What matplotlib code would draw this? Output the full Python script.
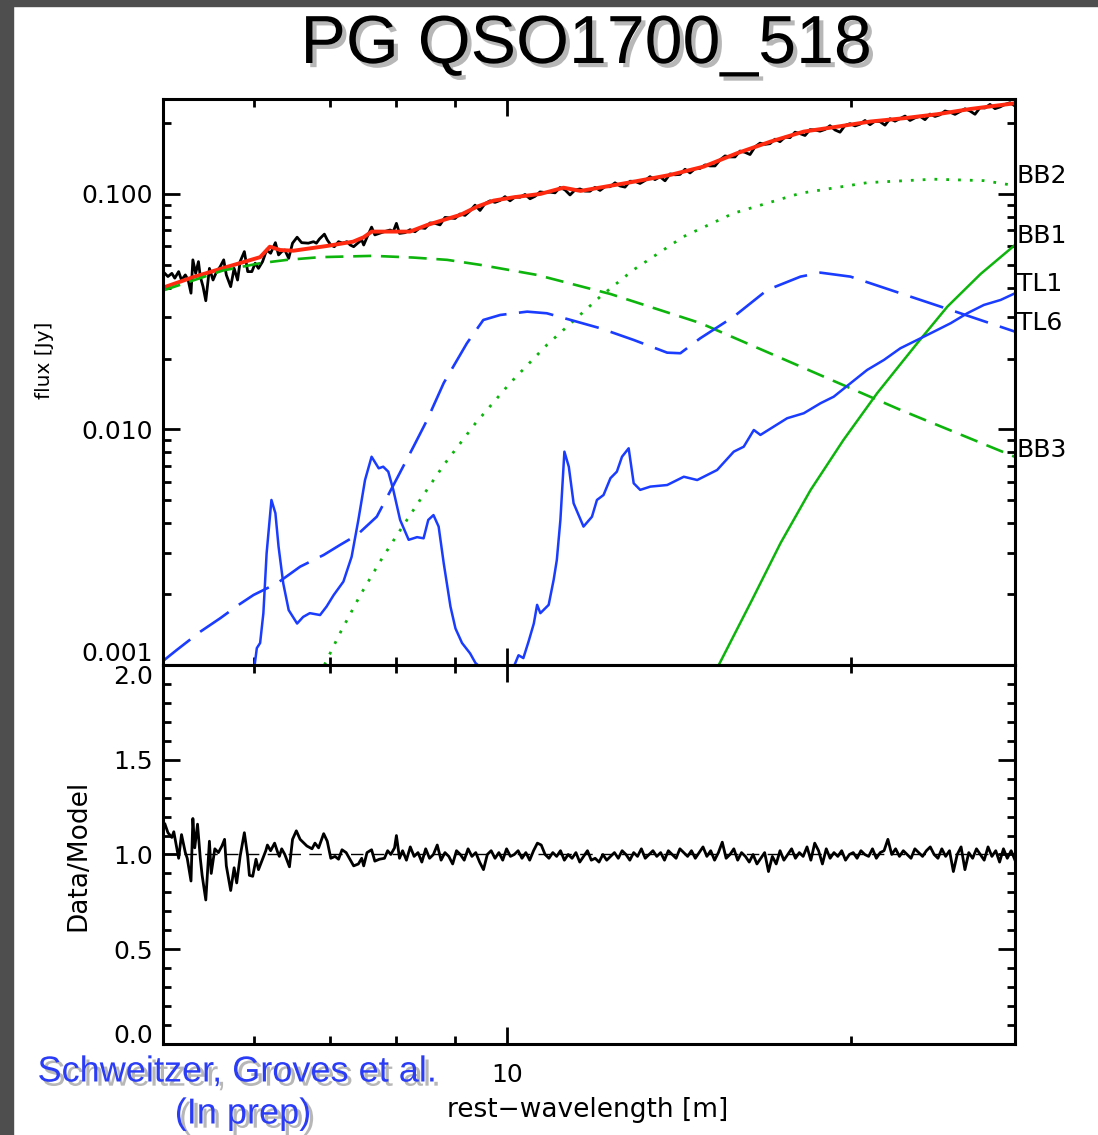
# PG QSO1700_518 spectrum decomposition + residuals
import numpy as np
import matplotlib
matplotlib.use('Agg')
from matplotlib import pyplot as plt
from matplotlib import patheffects as pe
from matplotlib.ticker import FixedLocator, FixedFormatter, NullFormatter, MultipleLocator

plt.rcParams['font.family'] = ['DejaVu Sans']
plt.rcParams['lines.scale_dashes'] = False

# ---- observed spectrum (Jy), sparse short-wavelength part ----
data_wl_a = [5.0, 5.05, 5.09, 5.12, 5.16, 5.19, 5.23, 5.26, 5.29, 5.31,
             5.34, 5.37, 5.39, 5.42, 5.45, 5.49, 5.53, 5.57, 5.61, 5.65,
             5.68, 5.73, 5.77, 5.81, 5.84, 5.89, 5.93, 5.98, 6.02, 6.06,
             6.11, 6.16, 6.21, 6.27, 6.31, 6.35, 6.39, 6.44, 6.49, 6.55,
             6.61, 6.70, 6.77, 6.81, 6.85, 6.92, 6.96, 7.01, 7.06, 7.12,
             7.18, 7.24, 7.29, 7.34, 7.40, 7.46, 7.49, 7.54, 7.61, 7.66,
             7.73, 7.81, 7.90, 7.95, 8.00, 8.05]
data_flux_a = [0.0468, 0.0446, 0.046, 0.0439, 0.0468, 0.0431, 0.0453, 0.0431, 0.0379, 0.0525,
               0.046, 0.0516, 0.0446, 0.0404, 0.0352, 0.0483, 0.0431, 0.0468, 0.0491, 0.0525,
               0.0453, 0.0404, 0.0483, 0.0431, 0.0516, 0.0569, 0.0468, 0.0468, 0.0508, 0.0483,
               0.0516, 0.0578, 0.056, 0.0621, 0.0551, 0.0569, 0.0578, 0.0533, 0.0618, 0.0655,
               0.0621, 0.0618, 0.0627, 0.0618, 0.0643, 0.0675, 0.0638, 0.0607, 0.0597, 0.0627,
               0.0618, 0.0627, 0.0607, 0.0597, 0.0618, 0.0638, 0.0607, 0.0655, 0.0723, 0.067,
               0.068, 0.0692, 0.0703, 0.0692, 0.075, 0.068]
# dense long-wavelength part (8.14 - 27.8 um, evenly sampled in log)
data_wl_b = np.geomspace(8.14, 27.8, 123)
data_flux_b = [0.0685, 0.0705, 0.0691, 0.0719, 0.0714, 0.0753, 0.0750, 0.0739, 0.0795, 0.0791,
               0.0787, 0.0822, 0.0811, 0.0847, 0.0896, 0.0851, 0.0910, 0.0935, 0.0921, 0.0938,
               0.0974, 0.0935, 0.0970, 0.0968, 0.0995, 0.0954, 0.0977, 0.1020, 0.1014, 0.1018,
               0.1011, 0.1065, 0.1040, 0.0990, 0.1040, 0.1050, 0.1028, 0.1027, 0.1067, 0.1035,
               0.1074, 0.1073, 0.1115, 0.1081, 0.1069, 0.1132, 0.1131, 0.1108, 0.1140, 0.1184,
               0.1150, 0.1183, 0.1137, 0.1216, 0.1206, 0.1210, 0.1273, 0.1228, 0.1279, 0.1283,
               0.1328, 0.1315, 0.1315, 0.1394, 0.1450, 0.1436, 0.1436, 0.1521, 0.1502, 0.1470,
               0.1585, 0.1643, 0.1624, 0.1635, 0.1708, 0.1667, 0.1742, 0.1734, 0.1829, 0.1803,
               0.1771, 0.1875, 0.1869, 0.1847, 0.1878, 0.1949, 0.1869, 0.1829, 0.1953, 0.1988,
               0.1944, 0.1978, 0.2051, 0.1968, 0.2037, 0.2027, 0.1959, 0.2087, 0.2037, 0.2089,
               0.2141, 0.2051, 0.2104, 0.2137, 0.2067, 0.2183, 0.2133, 0.2168, 0.2250, 0.2224,
               0.2177, 0.2237, 0.2299, 0.2250, 0.2179, 0.2324, 0.2317, 0.2400, 0.2302, 0.2340,
               0.2400, 0.2440, 0.2363]

# ---- total model (red) ----
model_wl = [5.0, 5.31, 5.68, 6.08, 6.20, 6.33, 6.50, 6.95, 7.33, 7.49, 7.61, 7.95, 8.22, 8.51,
            8.80, 9.10, 9.41, 9.73, 10.13, 10.69, 11.20, 11.59, 12.81, 13.89, 14.85, 15.89,
            16.99, 18.17, 19.43, 20.78, 22.22, 23.77, 25.42, 27.8]
model_flux = [0.0400, 0.0443, 0.0489, 0.0539, 0.0597, 0.0578, 0.0574, 0.0601, 0.0627, 0.0655,
              0.0692, 0.0692, 0.0692, 0.0738, 0.0776, 0.0815, 0.0883, 0.0937, 0.0968, 0.100,
              0.1063, 0.103, 0.112, 0.1205, 0.1306, 0.149, 0.1668, 0.184, 0.193, 0.203,
              0.2096, 0.218, 0.2295, 0.2427]

# ---- model components ----
bb3_wl = [5.0, 5.64, 6.08, 6.42, 6.86, 7.63, 8.27, 8.86, 9.47, 10.62, 12.31, 14.75, 18.05, 22.08, 27.8]
bb3_flux = [0.0389, 0.0473, 0.0508, 0.0525, 0.0539, 0.0546, 0.0537, 0.0525, 0.0500, 0.0453,
            0.0376, 0.0283, 0.0185, 0.0121, 0.00765]

bb2_wl = [6.92, 7.14, 7.44, 7.74, 8.01, 8.39, 8.80, 9.38, 10.06, 10.83, 12.06, 12.89, 14.26,
          15.77, 18.05, 20.66, 23.59, 26.10, 27.8]
bb2_flux = [0.001, 0.001364, 0.001983, 0.002746, 0.003565, 0.005020, 0.007067, 0.01062, 0.01576,
            0.02285, 0.03664, 0.04756, 0.06588, 0.08279, 0.1007, 0.1117, 0.1155, 0.1139, 0.1085]

bb1_wl = [15.31, 16.37, 17.34, 18.42, 19.68, 21.06, 22.83, 24.26, 25.94, 27.8]
bb1_flux = [0.001, 0.001888, 0.003296, 0.005535, 0.009024, 0.01425, 0.02323, 0.03322, 0.04574, 0.06073]

tl6_wl = [5.0, 5.14, 5.39, 5.61, 5.82, 6.00, 6.29, 6.59, 6.91, 7.14, 7.39, 7.69, 8.01, 8.28,
          8.51, 8.80, 9.22, 9.53, 9.86, 10.41, 10.83, 12.06, 12.90, 13.80, 14.17, 14.75, 15.78,
          16.88, 18.05, 18.79, 19.96, 22.07, 24.42, 27.8]
tl6_flux = [0.00104, 0.001158, 0.001385, 0.001579, 0.001798, 0.001983, 0.002222, 0.002615,
            0.002932, 0.003232, 0.003565, 0.004264, 0.006206, 0.008453, 0.01097, 0.01576,
            0.02323, 0.02917, 0.03063, 0.03164, 0.03114, 0.02690, 0.02399, 0.02119, 0.02107,
            0.02439, 0.03013, 0.03912, 0.04456, 0.04633, 0.04456, 0.03787, 0.03216, 0.02602]

tl1_wl = [6.01, 6.04, 6.08, 6.12, 6.16, 6.22, 6.27, 6.31, 6.37, 6.44,
          6.55, 6.63, 6.72, 6.86, 6.95, 7.05, 7.19, 7.31, 7.41, 7.51,
          7.61, 7.72, 7.79, 7.87, 7.95, 8.06, 8.20, 8.34, 8.45, 8.53,
          8.62, 8.71, 8.80, 8.92, 9.01, 9.13, 9.28, 9.38, 9.47, 9.75,
          10.13, 10.23, 10.33, 10.44, 10.55, 10.62, 10.69, 10.87, 10.98, 11.05,
          11.13, 11.22, 11.32, 11.43, 11.66, 11.86, 11.98, 12.14, 12.31, 12.47,
          12.60, 12.77, 12.90, 13.07, 13.34, 13.80, 14.27, 14.66, 15.26, 15.78,
          16.10, 16.43, 16.65, 17.10, 17.57, 18.17, 18.79, 19.30, 19.96, 20.64,
          21.35, 22.07, 22.83, 23.61, 24.42, 25.25, 26.11, 27.01, 27.8]
tl1_flux = [0.00098, 0.00118, 0.00124, 0.00166, 0.00298, 0.00502, 0.00441, 0.00318, 0.00222, 0.00171,
            0.00150, 0.00160, 0.00166, 0.00163, 0.00177, 0.00198, 0.00226, 0.00288, 0.00413, 0.00610,
            0.00766, 0.00684, 0.00695, 0.00662, 0.00554, 0.00413, 0.00340, 0.00349, 0.00345, 0.00413,
            0.00433, 0.00387, 0.00270, 0.00177, 0.00143, 0.00124, 0.00112, 0.00102, 0.00098, 0.00080,
            0.00098, 0.00110, 0.00107, 0.00126, 0.00150, 0.00180, 0.00166, 0.00180, 0.00230, 0.00279,
            0.00413, 0.00805, 0.00695, 0.00486, 0.00387, 0.00426, 0.00502, 0.00527, 0.00621, 0.00662,
            0.00766, 0.00832, 0.00591, 0.00554, 0.00572, 0.00581, 0.00630, 0.00610, 0.00673, 0.00805,
            0.00845, 0.00995, 0.00948, 0.01028, 0.01116, 0.01172, 0.01292, 0.01378, 0.01571, 0.01789,
            0.01973, 0.02212, 0.02399, 0.02602, 0.02825, 0.03114, 0.03378, 0.03548, 0.03787]

comp_names = ['BB2', 'BB1', 'TL1', 'TL6', 'BB3']
comp_label_y = [0.119, 0.0663, 0.0415, 0.0283, 0.0082]

# ---- data / model ratio ----
ratio_wl_a = [5.02, 5.05, 5.09, 5.11, 5.16, 5.19, 5.23, 5.25, 5.29, 5.31,
              5.33, 5.36, 5.39, 5.41, 5.45, 5.49, 5.51, 5.55, 5.59, 5.63,
              5.66, 5.68, 5.73, 5.77, 5.80, 5.84, 5.89, 5.93, 5.95, 5.99,
              6.03, 6.06, 6.10, 6.15, 6.17, 6.21, 6.26, 6.30, 6.32, 6.35,
              6.39, 6.45, 6.49, 6.54, 6.59, 6.68, 6.75, 6.79, 6.84, 6.91,
              6.96, 7.01, 7.07, 7.12, 7.17, 7.23, 7.30, 7.34, 7.41, 7.46,
              7.49, 7.54, 7.61, 7.66, 7.73, 7.81, 7.86, 7.91, 7.97, 8.00, 8.05]
ratio_a = [1.16, 1.115, 1.09, 1.12, 0.98, 1.105, 1.01, 0.98, 0.86, 1.19,
           1.035, 1.16, 0.98, 0.89, 0.76, 1.07, 0.90, 1.03, 1.01, 1.045,
           1.08, 0.94, 0.81, 0.93, 0.85, 0.99, 1.115, 0.99, 0.89, 0.885,
           0.975, 0.92, 0.965, 1.02, 1.05, 1.02, 1.06, 1.01, 0.99, 1.03,
           1.0, 0.935, 1.08, 1.125, 1.08, 1.045, 1.03, 1.06, 1.035, 1.11,
           1.07, 0.98, 0.99, 0.975, 1.025, 1.01, 0.965, 0.94, 0.95, 0.98,
           0.94, 1.01, 1.025, 0.965, 0.975, 0.98, 1.02, 1.0, 1.035, 1.10, 0.98]
ratio_wl_b = np.geomspace(8.1, 27.8, 160)
ratio_b = [1.02, 0.97, 1.04, 0.99, 1.01, 0.96, 1.03, 0.98, 1.00, 1.05, 0.97, 1.01, 0.99, 0.95, 1.02, 1.00, 0.97, 1.03, 0.99, 1.01,
           0.96, 0.92, 1.00, 1.02, 0.98, 1.01, 0.97, 1.03, 0.99, 1.00, 1.02, 0.98, 1.01, 0.97, 1.02, 1.06, 1.05, 1.00, 0.98, 1.01,
           0.99, 1.02, 0.97, 1.00, 0.98, 1.01, 0.96, 0.99, 1.02, 0.97, 0.98, 0.96, 1.00, 0.97, 0.99, 1.01, 0.98, 1.02, 1.00, 0.97,
           1.01, 0.99, 1.03, 0.98, 1.00, 1.02, 0.99, 1.01, 0.97, 1.02, 1.00, 0.98, 1.03, 1.01, 0.99, 1.02, 0.98, 1.01, 1.04, 0.99,
           1.02, 0.97, 1.01, 1.065, 0.98, 1.00, 1.03, 0.97, 1.01, 0.99, 0.96, 1.00, 0.95, 0.98, 1.01, 0.91, 0.99, 0.95, 1.02, 0.97,
           1.00, 1.03, 0.98, 1.01, 0.99, 1.04, 0.97, 1.06, 1.02, 0.95, 1.03, 0.98, 1.01, 0.99, 1.02, 0.97, 1.00, 1.01, 0.98, 1.02,
           1.00, 0.99, 1.03, 0.98, 1.01, 1.02, 1.08, 1.00, 1.03, 0.99, 1.02, 1.00, 0.98, 1.03, 1.01, 0.99, 1.02, 1.04, 1.00, 0.98,
           1.03, 0.99, 1.02, 0.91, 1.00, 1.04, 0.92, 1.01, 0.98, 1.03, 1.00, 0.97, 1.04, 0.99, 1.02, 0.96, 1.03, 0.98, 1.02, 0.97]

ratio_ticks = [0.0, 0.5, 1.0, 1.5, 2.0]

green = '#0cb40c'
blue = '#1a3cff'

fig = plt.figure(figsize=(10.98, 11.35), dpi=100)
fig.patch.set_facecolor('white')
# dark slide border
fig.add_artist(plt.Rectangle((0, 0), 0.012, 1, transform=fig.transFigure, color='#4e4e4e', zorder=0))
fig.add_artist(plt.Rectangle((0, 0.995), 1, 0.005, transform=fig.transFigure, color='#4e4e4e', zorder=0))

ax1 = fig.add_axes([0.14845, 0.41410, 0.77596, 0.49868])
ax2 = fig.add_axes([0.14845, 0.08018, 0.77596, 0.33392])

# top panel
ax1.plot(np.concatenate([data_wl_a, data_wl_b]), np.concatenate([data_flux_a, data_flux_b]),
         color='black', lw=2.0)
ax1.plot(model_wl, model_flux, color='#ff2a10', lw=2.8)
ax1.plot(bb3_wl, bb3_flux, color=green, lw=1.9, dashes=(13, 7))
ax1.plot(bb2_wl, bb2_flux, color=green, lw=2.0, dashes=(2, 6.5))
ax1.plot(bb1_wl, bb1_flux, color=green, lw=1.8)
ax1.plot(tl6_wl, tl6_flux, color=blue, lw=1.9, dashes=(25, 9))
ax1.plot(tl1_wl, tl1_flux, color=blue, lw=1.8)

for name, yv in zip(comp_names, comp_label_y):
    ax1.text(1.002, yv, name, transform=ax1.get_yaxis_transform(), ha='left', va='center',
             fontsize=18, clip_on=False)

# bottom panel
ax2.plot(np.concatenate([ratio_wl_a, ratio_wl_b]), np.concatenate([ratio_a, ratio_b]),
         color='black', lw=2.0)
ax2.axhline(1.0, color='black', lw=1.0, dashes=(9, 6))

for ax in (ax1, ax2):
    ax.set_xscale('log')
    ax.set_xlim(5.0, 27.8)
    ax.xaxis.set_major_locator(FixedLocator([10]))
    ax.xaxis.set_minor_locator(FixedLocator([6, 7, 8, 9, 20]))
    ax.xaxis.set_minor_formatter(NullFormatter())
    ax.tick_params(which='both', direction='in', top=True, right=True, width=2, labelsize=18)
    ax.tick_params(which='major', length=12, pad=7)
    ax.tick_params(which='minor', length=6)
    for s in ax.spines.values():
        s.set_linewidth(2.2)

ax1.set_yscale('log')
ax1.set_ylim(0.001, 0.253)
ax1.yaxis.set_major_locator(FixedLocator([0.001, 0.01, 0.1]))
ax1.yaxis.set_major_formatter(FixedFormatter(['', '0.010', '0.100']))
ax1.yaxis.set_minor_locator(FixedLocator([k * 10.0 ** e for e in (-3, -2, -1) for k in range(2, 10)
                                          if k * 10.0 ** e < 0.25]))
ax1.yaxis.set_minor_formatter(NullFormatter())
ax1.xaxis.set_major_formatter(NullFormatter())

ax2.set_ylim(0, 2.0)
ax2.yaxis.set_major_locator(FixedLocator(ratio_ticks))
ax2.yaxis.set_minor_locator(MultipleLocator(0.1))
ax2.yaxis.set_major_formatter(FixedFormatter(['', '0.5', '1.0', '1.5', '']))
ax2.xaxis.set_major_formatter(FixedFormatter(['10']))
ax2.tick_params(axis='x', which='major', pad=14)

# edge labels nudged inward, as in the IDL original
ax1.annotate('0.001', xy=(0, 0.001), xycoords=('axes fraction', 'data'), xytext=(-7, 8),
             textcoords='offset points', ha='right', va='center', fontsize=18)
ax2.annotate('2.0', xy=(0, 2.0), xycoords=('axes fraction', 'data'), xytext=(-7, -8.5),
             textcoords='offset points', ha='right', va='center', fontsize=18)
ax2.annotate('0.0', xy=(0, 0.0), xycoords=('axes fraction', 'data'), xytext=(-7, 6),
             textcoords='offset points', ha='right', va='center', fontsize=18)

# axis labels
fig.text(45 / 1098, 1 - 360 / 1135, 'flux [Jy]', rotation=90, ha='center', va='center', fontsize=14.5)
fig.text(78 / 1098, 1 - 855 / 1135, 'Data/Model', rotation=90, ha='center', va='center', fontsize=19)
fig.text(588 / 1098, 1 - 1110 / 1135, 'rest\u2212wavelength [m]', ha='center', va='center', fontsize=19)

# slide title and credit
shadow = [pe.SimplePatchShadow(offset=(3, -3), shadow_rgbFace='#888888', alpha=0.6), pe.Normal()]
fig.text(586 / 1098, 1 - 45 / 1135, 'PG QSO1700_518', ha='center', va='center', fontsize=49,
         family=['Liberation Sans', 'DejaVu Sans'], path_effects=shadow)
fig.text(237 / 1098, 1 - 1072 / 1135, 'Schweitzer, Groves et al.', ha='center', va='center',
         fontsize=26, color='#2a3cf5', family=['Liberation Sans', 'DejaVu Sans'],
         path_effects=shadow)
fig.text(243 / 1098, 1 - 1114 / 1135, '(In prep)', ha='center', va='center',
         fontsize=26, color='#2a3cf5', family=['Liberation Sans', 'DejaVu Sans'],
         path_effects=shadow)

fig.savefig('out.png', dpi=100)
